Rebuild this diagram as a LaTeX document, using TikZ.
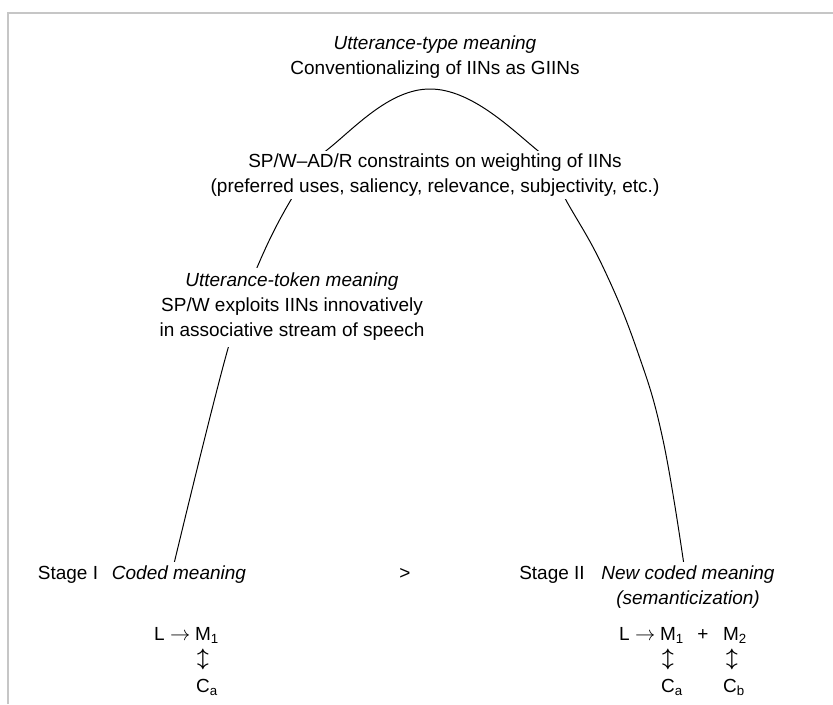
\documentclass[tikz,border=0pt]{standalone}
\usepackage{amsmath}
\usepackage{fontspec}
\setmainfont{Liberation Sans}
\usetikzlibrary{positioning}

\begin{document}
\begin{tikzpicture}[x=0.025cm, y=-0.025cm,
    lbl/.style={fill=white, inner sep=2pt, align=center,
      font=\fontsize{13.5}{17.8}\selectfont}]
  \useasboundingbox (0,0) rectangle (833,704);
  % page frame
  \draw[gray!45, line width=1.4pt] (8,704) -- (8,13) -- (833,13);
  % the arc, hidden behind the labels
  \draw[line width=0.7pt] plot[smooth, tension=0.7] coordinates
    {(172,572) (227,352) (256,270) (292,198) (327,150) (430,89)
     (537,150) (567,202) (603,267) (637,350) (663,440) (685,572)};
  % top of the arc
  \node[lbl] (type) at (435,57) {\textit{Utterance-type meaning}\\Conventionalizing of IINs as GIINs};
  \node[lbl] (weight) at (435,175) {SP/W--AD/R constraints on weighting of IINs\\(preferred uses, saliency, relevance, subjectivity, etc.)};
  \node[lbl, inner ysep=4pt] (token) at (292,307) {\textit{Utterance-token meaning}\\SP/W exploits IINs innovatively\\in associative stream of speech};
  % stage I
  \node[lbl, anchor=base] (stageI) at (68,579) {Stage I};
  \node[lbl, anchor=base] (coded) at (179,579) {\textit{Coded meaning}};
  \node[lbl, anchor=base] (gt) at (405,579) {>};
  \node[lbl, anchor=base] (mA) at (207,640) {M\textsubscript{1}};
  \node[lbl, anchor=base east, inner xsep=1pt] (lA) at (mA.base west) {L $\rightarrow$};
  \node[lbl] (udA) at (203,659) {$\boldsymbol{\updownarrow}$};
  \node[lbl, anchor=base] (cA) at (207,692) {C\textsubscript{a}};
  % stage II
  \node[lbl, anchor=base] (stageII) at (552,579) {Stage II};
  \node[lbl, anchor=base] (newcoded) at (688,579) {\textit{New coded meaning}};
  \node[lbl, anchor=base] (sem) at (688,604) {\textit{(semanticization)}};
  \node[lbl, anchor=base] (mB) at (672,640) {M\textsubscript{1}};
  \node[lbl, anchor=base east, inner xsep=1pt] (lB) at (mB.base west) {L $\rightarrow$};
  \node[lbl, anchor=base] (plus) at (703,640) {+};
  \node[lbl, anchor=base] (mC) at (735,640) {M\textsubscript{2}};
  \node[lbl] (udB) at (668,659) {$\boldsymbol{\updownarrow}$};
  \node[lbl] (udC) at (732,659) {$\boldsymbol{\updownarrow}$};
  \node[lbl, anchor=base] (cB) at (672,692) {C\textsubscript{a}};
  \node[lbl, anchor=base] (cC) at (734,692) {C\textsubscript{b}};
\end{tikzpicture}
\end{document}
